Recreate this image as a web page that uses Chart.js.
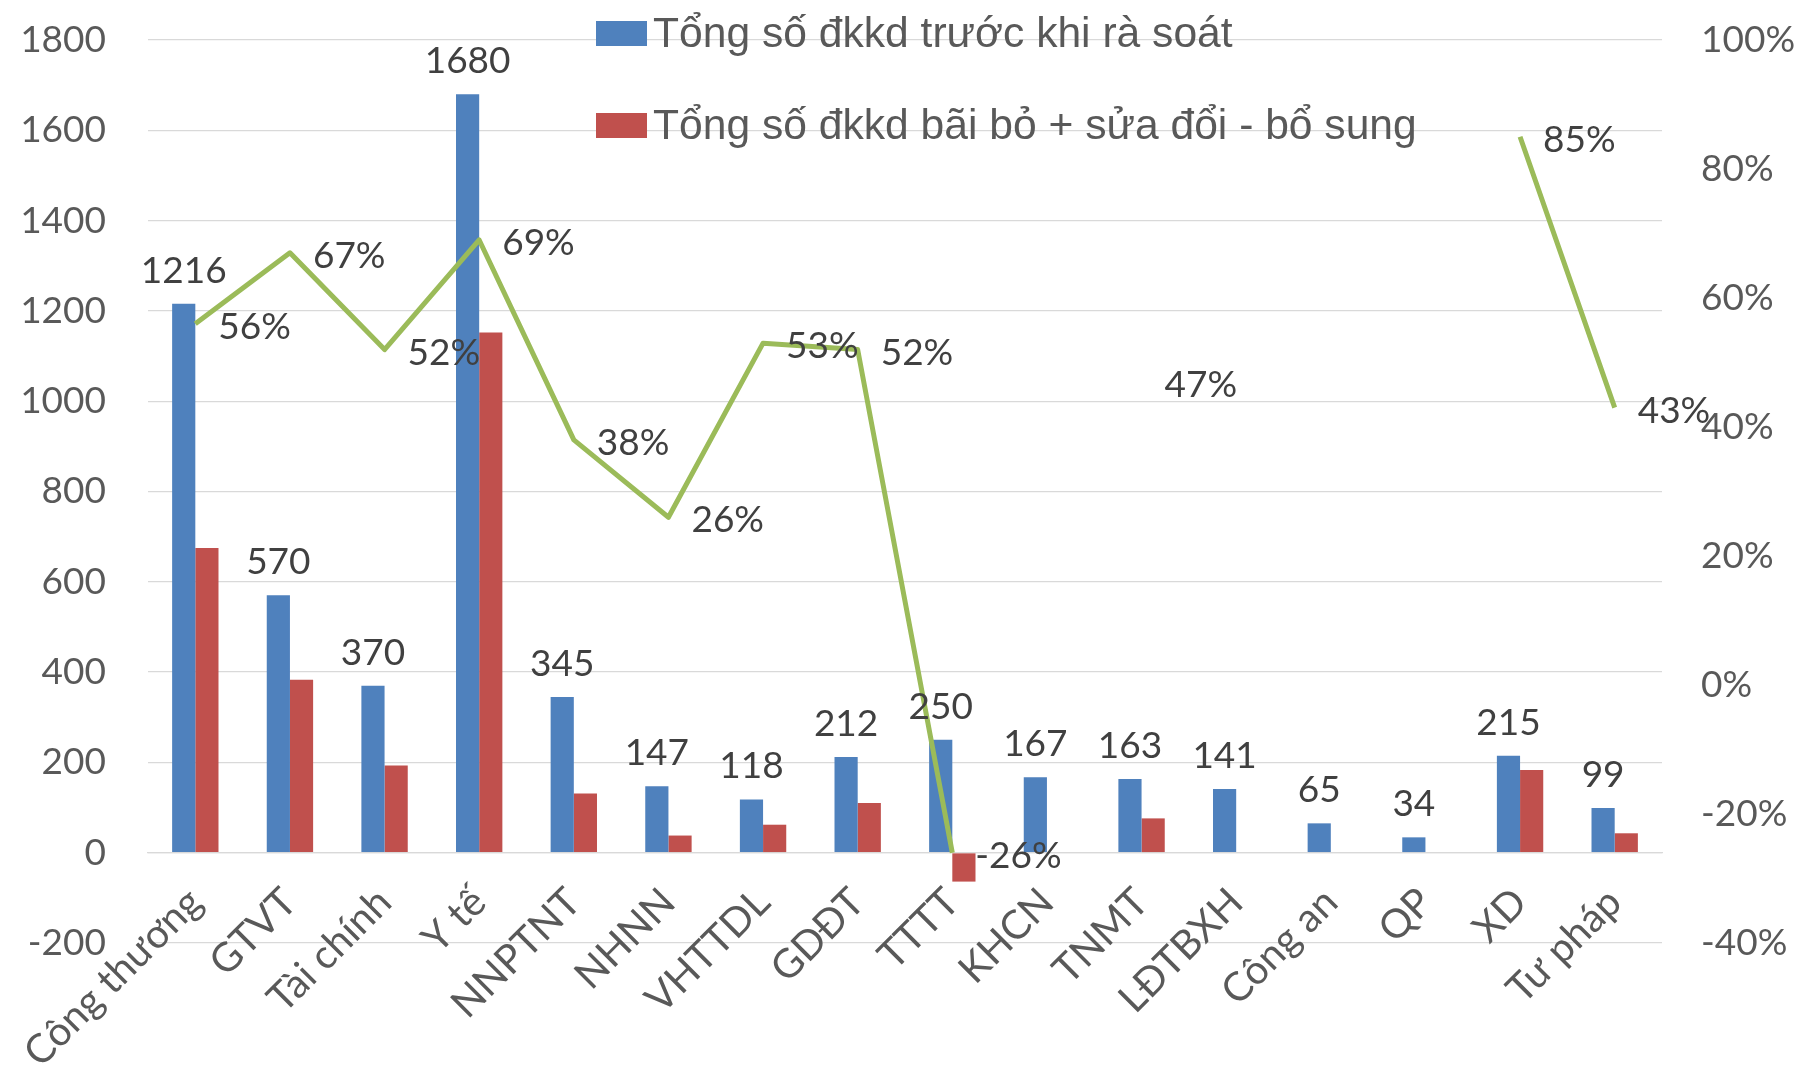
<!DOCTYPE html>
<html>
<head>
<meta charset="utf-8">
<script src="https://cdn.jsdelivr.net/npm/chart.js@4.4.1/dist/chart.umd.min.js"></script>
<style>
  html, body { margin: 0; padding: 0; background: #fff; }
  #wrap { width: 1812px; height: 1080px; }
</style>
</head>
<body>
<div id="wrap"><canvas id="chart" width="1812" height="1080"></canvas></div>
<script>
// ministries / sectors
const categories = ['Công thương', 'GTVT', 'Tài chính', 'Y tế', 'NNPTNT', 'NHNN', 'VHTTDL', 'GDĐT',
  'TTTT', 'KHCN', 'TNMT', 'LĐTBXH', 'Công an', 'QP', 'XD', 'Tư pháp'];

// business conditions before the review
const totalBefore = [1216, 570, 370, 1680, 345, 147, 118, 212, 250, 167, 163, 141, 65, 34, 215, 99];

// conditions removed + amended
const totalChanged = [675, 383, 193, 1152, 131, 38, 62, 110, -64, null, 76, null, null, null, 183, 43];

// share of conditions changed, in percent
const changedShare = [56, 67, 52, 69, 38, 26, 53, 52, -26, null, 47, null, null, null, 85, 43];

const seriesLabels = ['Tổng số đkkd trước khi rà soát', 'Tổng số đkkd bãi bỏ + sửa đổi - bổ sung'];

const BLUE = '#4F81BD';
const RED = '#C0504D';
const GREEN = '#9BBB59';
const GRID = '#D9D9D9';
const AXIS_FONT = { family: 'Lato, "Noto Sans", sans-serif', size: 37 };
const CAT_FONT = { family: 'Lato, "Noto Sans", sans-serif', size: 40 };

// keep the plot box where the layout padding puts it
function noLabelPadding(scale) {
  scale.paddingTop = 0;
  scale.paddingBottom = 0;
}

// numbers over the blue bars and percentages beside the line
const valueLabels = {
  id: 'valueLabels',
  afterDatasetsDraw(chart) {
    const ctx = chart.ctx;
    ctx.save();
    ctx.font = '37px Lato, "Noto Sans", sans-serif';
    ctx.fillStyle = '#404040';

    ctx.textAlign = 'center';
    ctx.textBaseline = 'alphabetic';
    chart.getDatasetMeta(0).data.forEach(function(bar, i) {
      ctx.fillText(String(totalBefore[i]), bar.x, bar.y - 21);
    });

    ctx.textAlign = 'left';
    ctx.textBaseline = 'middle';
    chart.getDatasetMeta(2).data.forEach(function(pt, i) {
      if (changedShare[i] === null) return;
      ctx.fillText(changedShare[i] + '%', pt.x + 23, pt.y + 3);
    });
    ctx.restore();
  }
};

// two-row legend sitting inside the plot, over the gridlines
const legendBox = {
  id: 'legendBox',
  afterDraw(chart) {
    const ctx = chart.ctx;
    ctx.save();
    ctx.font = '42.6px "Liberation Sans", Arial, sans-serif';
    ctx.textAlign = 'left';
    ctx.textBaseline = 'alphabetic';
    [0, 1].forEach(function(i) {
      const ds = chart.data.datasets[i];
      const top = 21 + i * 92;
      ctx.fillStyle = ds.backgroundColor;
      ctx.fillRect(596, top, 51, 25);
      ctx.fillStyle = '#595959';
      ctx.fillText(ds.label, 653, top + 26);
    });
    ctx.restore();
  }
};

const config = {
  type: 'bar',
  data: {
    labels: categories,
    datasets: [
      {
        label: seriesLabels[0],
        data: totalBefore,
        backgroundColor: BLUE,
        yAxisID: 'y',
        order: 1,
        categoryPercentage: 0.49,
        barPercentage: 1.0
      },
      {
        label: seriesLabels[1],
        data: totalChanged,
        backgroundColor: RED,
        yAxisID: 'y',
        order: 1,
        categoryPercentage: 0.49,
        barPercentage: 1.0
      },
      {
        type: 'line',
        label: 'Tỷ lệ',
        data: changedShare,
        borderColor: GREEN,
        borderWidth: 5,
        borderCapStyle: 'butt',
        borderJoinStyle: 'round',
        pointRadius: 0,
        tension: 0,
        spanGaps: false,
        yAxisID: 'y1',
        order: 0
      }
    ]
  },
  options: {
    responsive: false,
    animation: false,
    layout: { padding: { top: 40, bottom: 137, left: 0, right: 0 } },
    plugins: {
      legend: { display: false },
      tooltip: { enabled: false }
    },
    scales: {
      x: {
        position: { y: 0 },
        offset: true,
        grid: { display: false, drawTicks: false },
        border: { display: true, color: GRID, width: 1.3 },
        ticks: {
          font: CAT_FONT,
          color: '#595959',
          minRotation: 45,
          maxRotation: 45,
          autoSkip: false,
          padding: 26
        },
        afterFit: noLabelPadding
      },
      y: {
        position: 'left',
        min: -200,
        max: 1800,
        ticks: {
          stepSize: 200,
          padding: 42,
          font: AXIS_FONT,
          color: '#595959',
          callback: function(v) { return String(v); }
        },
        grid: { color: GRID, lineWidth: 1.3, drawTicks: false },
        border: { display: false },
        afterFit: function(scale) {
          scale.width = 148;
          noLabelPadding(scale);
        }
      },
      y1: {
        position: 'right',
        min: -40,
        max: 100,
        ticks: {
          stepSize: 20,
          padding: 39,
          font: AXIS_FONT,
          color: '#595959',
          callback: function(v) { return v + '%'; }
        },
        grid: { display: false, drawTicks: false },
        border: { display: false },
        afterFit: function(scale) {
          scale.width = 150;
          noLabelPadding(scale);
        }
      }
    }
  },
  plugins: [valueLabels, legendBox]
};

new Chart(document.getElementById('chart'), config);
</script>
</body>
</html>
